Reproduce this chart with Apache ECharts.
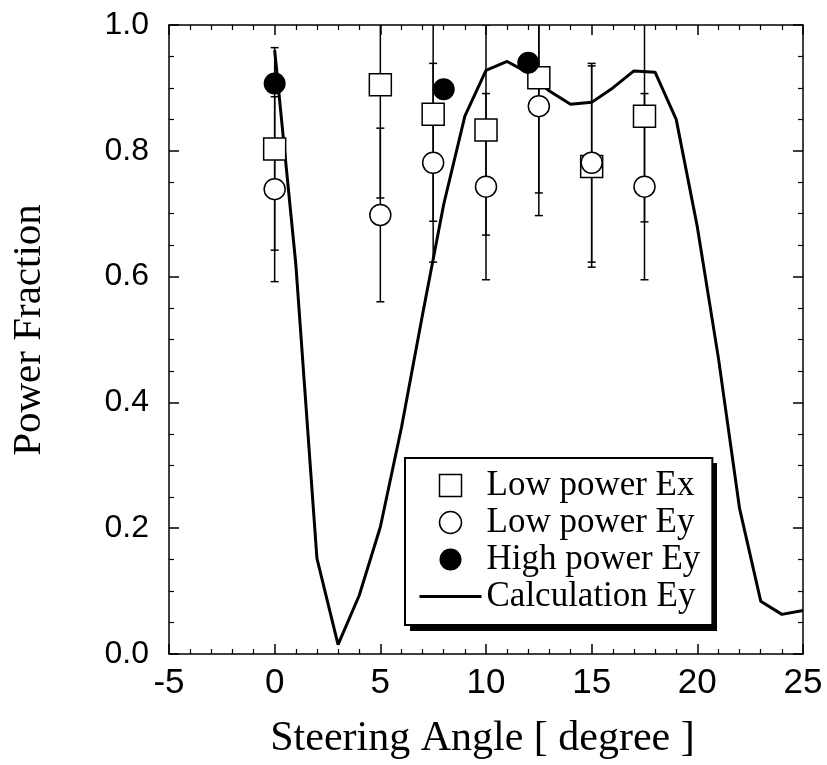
<!DOCTYPE html>
<html style="height: 100%">
	<head>
		<meta charset="UTF-8">
		<title>Power Fraction vs Steering Angle</title>
		<script src="https://cdn.jsdelivr.net/npm/echarts@6/dist/echarts.min.js" type="text/javascript"></script>
	</head>
	<body style="height:100%; margin: 0; background-color:#ffffff">
		<div id="main" style="height: 765px; width: 827px;"></div>
		<script type="text/javascript">
			// calculation (solid line)
			var calcX = [0, 1, 2, 3, 4, 5, 6, 7, 8, 9, 10, 11, 12, 13, 14, 15, 16, 17, 18, 19, 20, 21, 22, 23, 24, 25];
			var calcY = [0.96, 0.62, 0.152, 0.015, 0.093, 0.202, 0.36, 0.54, 0.715, 0.855, 0.928, 0.942, 0.924, 0.895, 0.874, 0.877, 0.900, 0.927, 0.925, 0.850, 0.679, 0.47, 0.231, 0.084, 0.063, 0.069];
			// low power Ex (open squares)
			var exX = [0, 5, 7.5, 10, 12.5, 15, 17.5];
			var exY = [0.803, 0.905, 0.858, 0.833, 0.916, 0.775, 0.855];
			var exErr = [0.161, 0.18, 0.17, 0.167, 0.183, 0.16, 0.168];
			// low power Ey (open circles)
			var eyX = [0, 5, 7.5, 10, 12.5, 15, 17.5];
			var eyY = [0.739, 0.698, 0.781, 0.743, 0.871, 0.781, 0.743];
			var eyErr = [0.147, 0.138, 0.158, 0.148, 0.174, 0.158, 0.148];
			// high power Ey (filled circles)
			var hiX = [0, 8, 12];
			var hiY = [0.907, 0.898, 0.940];

			var names = ['Low power Ex', 'Low power Ey', 'High power Ey', 'Calculation Ey'];

			function pairs(xs, ys) {
				var out = [];
				for (var i = 0; i < xs.length; i++) out.push([xs[i], ys[i]]);
				return out;
			}
			function triples(xs, ys, es) {
				var out = [];
				for (var i = 0; i < xs.length; i++) out.push([xs[i], ys[i], es[i]]);
				return out;
			}

			// vertical error bar with short caps
			function renderErr(params, api) {
				var x = api.value(0), y = api.value(1), e = api.value(2);
				var top = api.coord([x, y + e]);
				var bot = api.coord([x, y - e]);
				var hw = 4;
				var st = { stroke: '#000', lineWidth: 1.5 };
				return {
					type: 'group',
					children: [
						{ type: 'line', shape: { x1: top[0], y1: top[1], x2: bot[0], y2: bot[1] }, style: st },
						{ type: 'line', shape: { x1: top[0] - hw, y1: top[1], x2: top[0] + hw, y2: top[1] }, style: st },
						{ type: 'line', shape: { x1: bot[0] - hw, y1: bot[1], x2: bot[0] + hw, y2: bot[1] }, style: st }
					]
				};
			}

			var black = '#000000';
			function xAx(pos) {
				return {
					type: 'value', position: pos, min: -5, max: 25, interval: 5,
					axisLine: { show: true, onZero: false, lineStyle: { color: black, width: 1.5 } },
					axisTick: { show: true, inside: true, length: 10, lineStyle: { color: black, width: 1.5 } },
					minorTick: { show: true, splitNumber: 5, length: 5, lineStyle: { color: black, width: 1.2 } },
					axisLabel: { show: pos === 'bottom', margin: 12, color: black, fontSize: 35, fontFamily: 'Liberation Sans' },
					splitLine: { show: false },
					name: pos === 'bottom' ? 'Steering Angle [ degree ]' : '',
					nameLocation: 'middle', nameGap: 64,
					nameTextStyle: { color: black, fontSize: 42, fontFamily: 'Liberation Serif', padding: [0, 7, 0, 0] }
				};
			}
			function yAx(pos) {
				return {
					type: 'value', position: pos, min: 0, max: 1, interval: 0.2,
					axisLine: { show: true, onZero: false, lineStyle: { color: black, width: 1.5 } },
					axisTick: { show: true, inside: true, length: 10, lineStyle: { color: black, width: 1.5 } },
					minorTick: { show: true, splitNumber: 4, length: 5, lineStyle: { color: black, width: 1.2 } },
					axisLabel: {
						show: pos === 'left', margin: 20, color: black, fontSize: 32, fontFamily: 'Liberation Sans',
						padding: [0, 0, 8, 0],
						formatter: function (v) { return v.toFixed(1); }
					},
					splitLine: { show: false },
					name: pos === 'left' ? 'Power Fraction' : '',
					nameLocation: 'middle', nameGap: 119,
					nameTextStyle: { color: black, fontSize: 41, fontFamily: 'Liberation Serif', padding: [0, 0, 0, 19] }
				};
			}

			var myChart = echarts.init(document.getElementById('main'), null, { renderer: 'canvas' });
			var option = {
				animation: false,
				backgroundColor: '#ffffff',
				grid: { left: 169, right: 24, top: 25, bottom: 107, containLabel: false },
				xAxis: [xAx('bottom'), xAx('top')],
				yAxis: [yAx('left'), yAx('right')],
				// drop shadow behind the legend box
				graphic: [{
					type: 'rect', left: 410, top: 463, z: 3, silent: true,
					shape: { width: 307, height: 168 },
					style: { fill: black }
				}],
				legend: {
					orient: 'vertical', left: 405, top: 458, z: 4,
					padding: [9, 12, 10, 13], itemGap: 0, itemWidth: 62, itemHeight: 22,
					backgroundColor: '#ffffff', borderColor: black, borderWidth: 2, borderRadius: 0,
					textStyle: { color: black, fontSize: 35, lineHeight: 37, fontFamily: 'Liberation Serif' },
					selectedMode: false,
					data: [
						{ name: names[0], icon: 'path://M0,0L10,0L10,10L0,10Z', itemStyle: { color: '#fff', borderColor: black, borderWidth: 1.5 } },
						{ name: names[1], icon: 'circle', itemStyle: { color: '#fff', borderColor: black, borderWidth: 1.5 } },
						{ name: names[2], icon: 'circle', itemStyle: { color: black, borderWidth: 0 } },
						{ name: names[3], lineStyle: { width: 3 }, itemStyle: { color: 'rgba(0,0,0,0)', borderWidth: 0, opacity: 0 } }
					]
				},
				series: [
					{ name: 'errEx', type: 'custom', clip: true, renderItem: renderErr, data: triples(exX, exY, exErr), z: 1 },
					{ name: 'errEy', type: 'custom', clip: true, renderItem: renderErr, data: triples(eyX, eyY, eyErr), z: 1 },
					{
						name: names[3], type: 'line', data: pairs(calcX, calcY), symbol: 'none', showSymbol: false,
						lineStyle: { color: black, width: 3 }, itemStyle: { color: black }, z: 2
					},
					{
						name: names[0], type: 'scatter', data: pairs(exX, exY), symbol: 'rect', symbolSize: 22,
						itemStyle: { color: '#ffffff', borderColor: black, borderWidth: 1.5, opacity: 1 }, z: 3
					},
					{
						name: names[1], type: 'scatter', data: pairs(eyX, eyY), symbol: 'circle', symbolSize: 21,
						itemStyle: { color: '#ffffff', borderColor: black, borderWidth: 1.5, opacity: 1 }, z: 4
					},
					{
						name: names[2], type: 'scatter', data: pairs(hiX, hiY), symbol: 'circle', symbolSize: 22,
						itemStyle: { color: black, opacity: 1 }, z: 5
					}
				]
			};
			myChart.setOption(option);
		</script>
	</body>
</html>
